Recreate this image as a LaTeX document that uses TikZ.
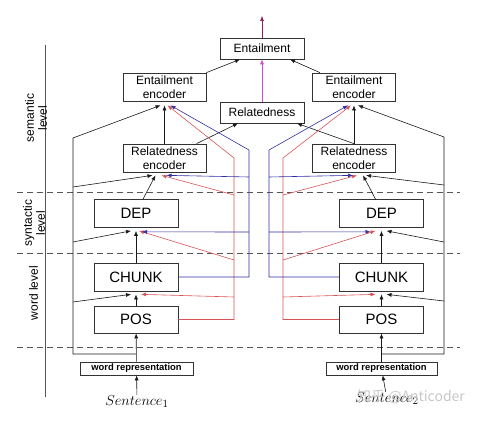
\documentclass[tikz,border=0pt]{standalone}
\usepackage{fontspec}
\setmainfont{Liberation Sans}
\newfontfamily\cjkfont{Noto Sans CJK SC}
\usetikzlibrary{arrows.meta,calc}
\definecolor{cblue}{HTML}{2E2EA6}
\definecolor{cred}{HTML}{D65454}
\definecolor{cmag}{HTML}{D24BD2}
\definecolor{cpurp}{HTML}{8C1C5C}
\definecolor{cgrey}{HTML}{555555}
\begin{document}
\begin{tikzpicture}[x=1pt,y=-1pt,
  box/.style={draw=black!80, line width=0.7pt, inner sep=0pt, align=center, font=\fontsize{12}{13.5}\selectfont},
  bigbox/.style={box, minimum width=84pt, minimum height=28pt, font=\fontsize{15}{17}\selectfont},
  encbox/.style={box, minimum width=83pt, minimum height=28pt},
  topbox/.style={box, minimum width=84pt, minimum height=21pt},
  wrbox/.style={box, minimum height=13pt, font=\bfseries\fontsize{9.4}{11}\selectfont},
  lvl/.style={align=center, rotate=90, inner sep=0pt, font=\fontsize{12}{13}\selectfont},
  ar/.style={-{Latex[length=5pt,width=4pt]}, line width=0.6pt, draw=black!90},
  bl/.style={ar, draw=cblue},
  rd/.style={ar, draw=cred},
  ln/.style={line width=0.6pt},
  dline/.style={dash pattern=on 6pt off 4pt, draw=cgrey, line width=0.7pt},
  axis/.style={draw=cgrey, line width=0.7pt}
]
\useasboundingbox (0,0) rectangle (483,422);

% level axis and separators
\coordinate (axT) at (45.5,45);
\coordinate (axB) at (45.5,397);
\draw[axis] (axT) -- (axB);
\coordinate (d1a) at (17,192.5); \coordinate (d1b) at (460,192.5);
\coordinate (d2a) at (17,253);   \coordinate (d2b) at (460,253);
\coordinate (d3a) at (17,347);   \coordinate (d3b) at (460,347);
\draw[dline] (d1a) -- (d1b);
\draw[dline] (d2a) -- (d2b);
\draw[dline] (d3a) -- (d3b);
\node[lvl] (lsem) at (36,118) {semantic\\level};
\node[lvl] (lsyn) at (34,223) {syntactic\\level};
\node[lvl] (lword) at (33.5,293) {word level};

% left column
\node[encbox] (LEE) at (164.5,87) {Entailment\\encoder};
\node[encbox] (LRE) at (164.5,158) {Relatedness\\encoder};
\node[bigbox] (LDEP) at (136,213.5) {DEP};
\node[bigbox] (LCH) at (136,277) {CHUNK};
\node[bigbox, minimum height=27pt] (LPOS) at (136,319.5) {POS};
\node[wrbox, minimum width=113pt] (LWR) at (136.5,368.5) {word representation};
\node[inner sep=1pt] (LS) at (137,402) {\fontsize{15}{15}\selectfont $Sentence_1$};

% centre
\node[topbox] (ENT) at (262,48.5) {Entailment};
\node[topbox] (REL) at (262,112.5) {Relatedness};
\coordinate (top) at (262,16);

% right column
\node[encbox] (REE) at (354,87) {Entailment\\encoder};
\node[encbox] (RRE) at (354,158) {Relatedness\\encoder};
\node[bigbox] (RDEP) at (381.5,213.5) {DEP};
\node[bigbox] (RCH) at (381.5,277) {CHUNK};
\node[bigbox, minimum height=27pt] (RPOS) at (381.5,319.5) {POS};
\node[wrbox, minimum width=111pt] (RWR) at (381.5,368.5) {word representation};
\node[inner sep=1pt] (RS) at (387,399) {\fontsize{15}{15}\selectfont $Sentence_2$};

% ---------- left black ----------
\draw[ar] (LS) -- (LWR);
\draw[ar] (LWR) -- (LPOS);
\draw[ar] (LPOS.north) -- ($(LCH.south)+(0,3)$);
\draw[ar] (LCH.north) -- ($(LDEP.south)+(0,3)$);
\draw[ar] ($(LDEP.north)+(7,0)$) -- ($(LRE.south)+(-9,3)$);
\draw[ar] (LRE.north) -- ($(LEE.south)+(0,4)$);
\draw[ar] ($(LRE.north)+(32,0)$) -- ($(REL.south)+(-24,0)$);
\draw[ar] (LEE.north east) -- ($(ENT.south)+(-22,0)$);
% left bypass
\coordinate (lb0) at (136,354);
\coordinate (lb1) at (73,354);
\coordinate (lbA) at (73,302);
\coordinate (lbB) at (73,242);
\coordinate (lbC) at (73,187);
\coordinate (lbD) at (73,138);
\draw[ar] (lb0) -- (lb1) -- (lbD) -- ($(LEE.south)+(-4,4)$);
\draw[ar] (lbA) -- ($(LCH.south)+(-5,3)$);
\draw[ar] (lbB) -- ($(LDEP.south)+(-5,3)$);
\draw[ar] (lbC) -- ($(LRE.south)+(-12,3)$);
% left red
\coordinate (lr1) at (234,319.5);
\coordinate (lrA) at (234,297);
\coordinate (lrB) at (234,260);
\coordinate (lrC) at (234,195);
\coordinate (lrD) at (234,158);
\draw[rd] (LPOS.east) -- (lr1) -- (lrD) -- ($(LEE.south)+(3,4)$);
\draw[rd] (lrA) -- ($(LCH.south)+(5,3)$);
\draw[rd] (lrB) -- ($(LDEP.south)+(3,3)$);
\draw[rd] (lrC) -- ($(LRE.south)+(-3,3)$);
% left blue
\coordinate (lu1) at (249,277);
\coordinate (luA) at (249,232);
\coordinate (luB) at (249,177);
\coordinate (luC) at (249,150);
\draw[bl] (LCH.east) -- (lu1) -- (luC) -- ($(LEE.south)+(6,4)$);
\draw[bl] (luA) -- ($(LDEP.south)+(6,4)$);
\draw[bl] (luB) -- ($(LRE.south)+(2,3)$);

% ---------- centre ----------
\draw[ar, draw=cmag] (REL) -- (ENT);
\draw[ar, draw=cpurp] (ENT) -- (top);

% ---------- right black ----------
\draw[ar] (RS) -- (RWR);
\draw[ar] (RWR) -- (RPOS);
\draw[ar] (RPOS.north) -- ($(RCH.south)+(0,3)$);
\draw[ar] (RCH.north) -- ($(RDEP.south)+(0,3)$);
\draw[ar] ($(RDEP.north)+(-6,0)$) -- ($(RRE.south)+(9,3)$);
\draw[ar] (RRE.north) -- ($(REE.south)+(0,4)$);
\draw[ar] (RRE.north) -- ($(REL.south)+(35,0)$);
\draw[ar] ($(REE.north)+(-34,0)$) -- ($(ENT.south)+(28,0)$);
% right bypass
\coordinate (rb0) at (381.5,354);
\coordinate (rb1) at (444,354);
\coordinate (rbA) at (444,301);
\coordinate (rbB) at (444,242);
\coordinate (rbC) at (444,185);
\coordinate (rbD) at (444,137);
\draw[ar] (rb0) -- (rb1) -- (rbD) -- ($(REE.south)+(4,4)$);
\draw[ar] (rbA) -- ($(RCH.south)+(5,3)$);
\draw[ar] (rbB) -- ($(RDEP.south)+(5,3)$);
\draw[ar] (rbC) -- ($(RRE.south)+(12,3)$);
% right red
\coordinate (rr1) at (283,319.5);
\coordinate (rrA) at (283,297);
\coordinate (rrB) at (283,260);
\coordinate (rrC) at (283,195);
\coordinate (rrD) at (283,158);
\draw[rd] (RPOS.west) -- (rr1) -- (rrD) -- ($(REE.south)+(-3,4)$);
\draw[rd] (rrA) -- ($(RCH.south)+(-6,3)$);
\draw[rd] (rrB) -- ($(RDEP.south)+(-6,3)$);
\draw[rd] (rrC) -- ($(RRE.south)+(3,3)$);
% right blue
\coordinate (ru1) at (269,277);
\coordinate (ruA) at (269,232);
\coordinate (ruB) at (269,177);
\coordinate (ruC) at (269,150);
\draw[bl] (RCH.west) -- (ru1) -- (ruC) -- ($(REE.south)+(-6,4)$);
\draw[bl] (ruA) -- ($(RDEP.south)+(-11,4)$);
\draw[bl] (ruB) -- ($(RRE.south)+(-1,3)$);

% watermark
\node[text=black!22, font=\cjkfont\fontsize{14}{14}\selectfont] (wm) at (411,397) {知乎 @Anticoder};
\end{tikzpicture}
\end{document}
